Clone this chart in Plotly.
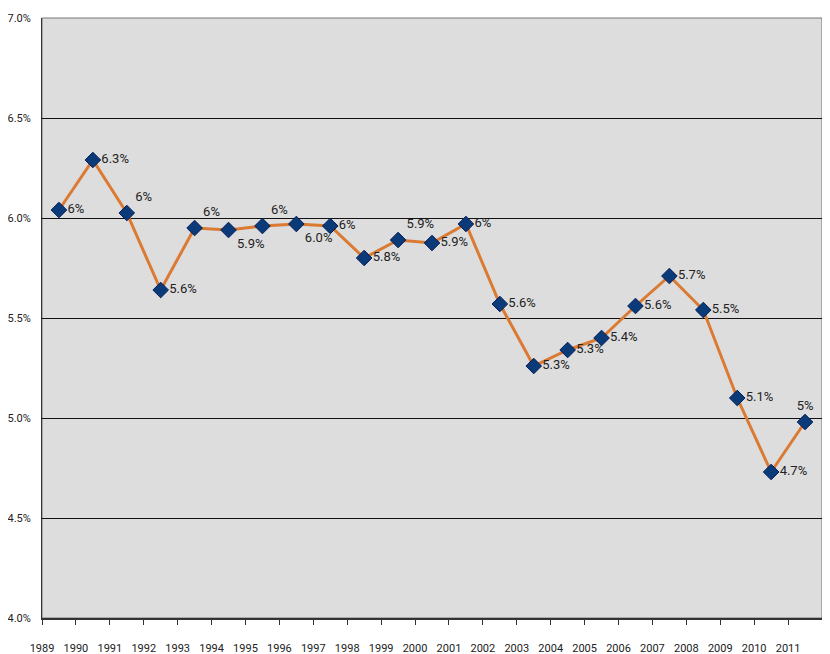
import plotly.graph_objects as go

years = [str(y) for y in range(1989, 2012)]
values = [6.04, 6.29, 6.025, 5.64, 5.95, 5.94, 5.96, 5.97, 5.96, 5.80, 5.89, 5.875,
          5.97, 5.57, 5.26, 5.34, 5.40, 5.56, 5.71, 5.54, 5.10, 4.73, 4.98]
labels = ["6%", "6.3%", "6%", "5.6%", "6%", "5.9%", "6%", "6.0%", "6%", "5.8%", "5.9%",
          "5.9%", "6%", "5.6%", "5.3%", "5.3%", "5.4%", "5.6%", "5.7%", "5.5%", "5.1%",
          "4.7%", "5%"]
positions = ["middle right", "middle right", "top right", "middle right", "top right",
             "bottom right", "top right", "bottom right", "middle right", "middle right",
             "top right", "middle right", "middle right", "middle right", "middle right",
             "middle right", "middle right", "middle right", "middle right", "middle right",
             "middle right", "middle right", "top center"]
ytick_vals = [4.0, 4.5, 5.0, 5.5, 6.0, 6.5, 7.0]

xpos = [i + 0.5 for i in range(len(years))]
FONT = "Roboto, Liberation Sans, sans-serif"

fig = go.Figure()
fig.add_trace(go.Scatter(
    x=xpos, y=values, mode="lines+markers+text",
    line=dict(color="#DB7A32", width=3),
    marker=dict(symbol="diamond", size=12, color="#0B3A78",
                line=dict(color="#051E5A", width=1)),
    text=labels, textposition=positions,
    textfont=dict(family=FONT, size=13, color="#222"),
    cliponaxis=False, showlegend=False,
))

# page body has an 8px default margin: size the figure so the plot sits where the reference's does
fig.update_layout(
    width=822, height=646,
    margin=dict(l=34, r=8, t=10, b=36, autoexpand=False),
    paper_bgcolor="white", plot_bgcolor="#DDDDDD",
    font=dict(family=FONT, size=11, color="#222"),
)
fig.update_xaxes(
    range=[0, 23], tickmode="array",
    tickvals=list(range(24)), ticktext=years + [""],
    ticks="outside", ticklen=5, tickcolor="#333", tickwidth=1,
    showgrid=False, zeroline=False, automargin=False,
    showline=True, linecolor="#333", linewidth=2, mirror=False,
    tickfont=dict(family=FONT, size=11, color="#222"),
    ticklabelstandoff=14,
)
fig.update_yaxes(
    range=[4.0, 7.0], tickmode="array", tickvals=ytick_vals,
    ticktext=[f"{v:.1f}%" for v in ytick_vals],
    showgrid=True, gridcolor="#111", gridwidth=1, zeroline=False, automargin=False,
    showline=True, linecolor="#333", linewidth=1,
    ticks="", tickfont=dict(family=FONT, size=11, color="#222"),
    ticklabelstandoff=8,
)
fig.add_shape(type="rect", xref="paper", yref="paper", x0=0, y0=0, x1=1, y1=1,
              line=dict(color="#777", width=1), layer="below")

fig.write_html("out.html")
